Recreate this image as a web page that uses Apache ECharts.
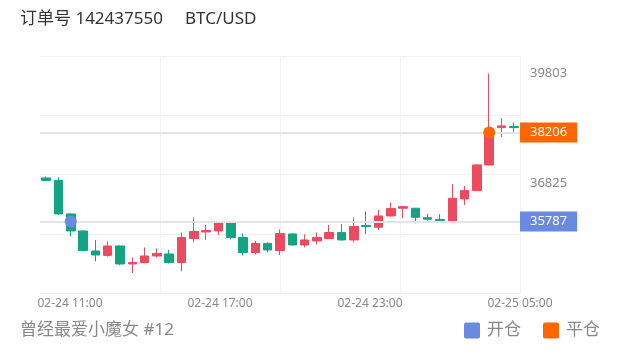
<!DOCTYPE html>
<html>
<head>
<meta charset="utf-8">
<script src="https://cdn.jsdelivr.net/npm/echarts@6/dist/echarts.min.js"></script>
<style>
html,body{margin:0;padding:0;background:#fff;}
#chart{width:620px;height:352px;}
</style>
</head>
<body>
<div id="chart"></div>
<script>
const titleText = '订单号 142437550     BTC/USD';
const footerText = '曾经最爱小魔女 #12';
const categories = [
  '02-24 10:00','02-24 10:30','02-24 11:00','02-24 11:30','02-24 12:00','02-24 12:30',
  '02-24 13:00','02-24 13:30','02-24 14:00','02-24 14:30','02-24 15:00','02-24 15:30',
  '02-24 16:00','02-24 16:30','02-24 17:00','02-24 17:30','02-24 18:00','02-24 18:30',
  '02-24 19:00','02-24 19:30','02-24 20:00','02-24 20:30','02-24 21:00','02-24 21:30',
  '02-24 22:00','02-24 22:30','02-24 23:00','02-24 23:30','02-25 00:00','02-25 00:30',
  '02-25 01:00','02-25 01:30','02-25 02:00','02-25 02:30','02-25 03:00','02-25 03:30',
  '02-25 04:00','02-25 04:30','02-25 05:00'
];
const opens  = [36970,36900,35993,35531,34988,34866,35124,34635,34676,34852,34906,34676,35328,35504,35531,35762,35355,34947,35192,35001,35450,35151,35260,35328,35490,35287,35680,35632,35939,36148,36148,35892,35844,35803,36400,36626,37324,38337,38364];
const closes = [36903,35993,35531,35001,34879,35124,34635,34676,34852,34920,34676,35355,35518,35545,35762,35355,34947,35192,35015,35463,35151,35287,35355,35490,35287,35653,35653,35939,36142,36191,35903,35849,35816,36419,36626,37324,38206,38383,38337];
const lows   = [36889,35966,35382,34988,34703,34838,34608,34390,34648,34811,34648,34431,35219,35287,35422,35300,34866,34893,34947,34879,35137,35083,35164,35314,35273,35219,35450,35558,35920,35876,35740,35811,35803,35795,36237,36618,37310,38076,38228];
const highs  = [37011,36984,36006,35545,35287,35246,35137,34811,35083,35056,35015,35490,35898,35694,35789,35775,35463,35260,35219,35572,35463,35436,35490,35694,35721,35898,36061,36102,36305,36210,36156,35993,35985,36799,36753,37337,39803,38592,38472];
const priceLabels = [39803, 36825];
const openTrade  = { name: '开仓', time: '02-24 11:00', price: 35787 };
const closeTrade = { name: '平仓', time: '02-25 04:00', price: 38206 };
const tickHours  = [11, 17, 23, 29];
const tickLabels = ['02-24 11:00', '02-24 17:00', '02-24 23:00', '02-25 05:00'];

const UP = '#ec4a5e', DOWN = '#14a383', BLUE = '#6a89e0', ORANGE = '#ff6600';
const FONT = '"Noto Sans", "Noto Sans CJK SC", sans-serif';
const SQUARE = 'path://M2,0H14A2,2,0,0,1,16,2V14A2,2,0,0,1,14,16H2A2,2,0,0,1,0,14V2A2,2,0,0,1,2,0Z';

const ohlc = categories.map((c, i) => [opens[i], closes[i], lows[i], highs[i]]);

const chart = echarts.init(document.getElementById('chart'), null, {renderer: 'canvas'});
chart.setOption({
  animation: false,
  backgroundColor: '#fff',
  textStyle: { fontFamily: FONT },
  title: [
    { text: titleText, left: 20, top: 11, padding: 0,
      textStyle: { fontSize: 17, fontWeight: 'normal', color: '#333', fontFamily: FONT } },
    { text: footerText, left: 20, top: 322, padding: 0,
      textStyle: { fontSize: 17, fontWeight: 'normal', color: '#888', fontFamily: FONT, letterSpacing: 0.5 } }
  ],
  legend: {
    data: [{ name: openTrade.name, icon: SQUARE }, { name: closeTrade.name, icon: SQUARE }],
    right: 20, top: 322, padding: 0,
    itemWidth: 16, itemHeight: 16, itemGap: 22,
    textStyle: { fontSize: 17, color: '#888', fontFamily: FONT, padding: [0, 0, 0, 2] }
  },
  grid: { left: 40, right: 100, top: 56, bottom: 59, containLabel: false },
  xAxis: [
    { type: 'category', data: categories, boundaryGap: true, gridIndex: 0,
      axisLine: { show: false }, axisTick: { show: false }, axisLabel: { show: false }, splitLine: { show: false } },
    { type: 'value', min: 9.8, max: 29, gridIndex: 0, position: 'bottom',
      axisLine: { show: true, lineStyle: { color: '#ececec' } }, axisTick: { show: false },
      splitLine: { show: false },
      axisLabel: { customValues: tickHours, margin: 5, color: '#888', fontSize: 12, fontFamily: FONT,
        formatter: v => tickLabels[tickHours.indexOf(v)] } },
    { type: 'value', min: 0, max: 4, interval: 1, gridIndex: 0,
      axisLine: { show: false }, axisTick: { show: false }, axisLabel: { show: false },
      splitLine: { show: true, showMinLine: false, lineStyle: { color: '#f3f3f3', width: 1 } } }
  ],
  yAxis: [
    { type: 'value', position: 'right', min: 33847, max: 40280, scale: true,
      axisLine: { show: false }, axisTick: { show: false }, splitLine: { show: false },
      axisLabel: { customValues: priceLabels, margin: 10, color: '#888', fontSize: 13, fontFamily: FONT,
        formatter: v => String(v) } },
    { type: 'value', min: 0, max: 4, interval: 1, position: 'left',
      axisLine: { show: false }, axisTick: { show: false }, axisLabel: { show: false },
      splitLine: { show: true, showMinLine: false, lineStyle: { color: '#f1f1f1', width: 1 } } }
  ],
  series: [
    { type: 'candlestick', name: 'BTC/USD', xAxisIndex: 0, yAxisIndex: 0, data: ohlc, barWidth: 9,
      itemStyle: { color: UP, color0: DOWN, borderColor: UP, borderColor0: DOWN, borderWidth: 1 },
      markLine: {
        symbol: 'none', silent: true,
        lineStyle: { color: '#e4e4e4', width: 2, type: 'solid' },
        label: { position: 'end', distance: 0, formatter: '{c}', color: '#fff', fontSize: 13,
          fontFamily: FONT, padding: [3, 10, 3, 10], lineHeight: 14 },
        data: [
          { yAxis: closeTrade.price, label: { backgroundColor: ORANGE } },
          { yAxis: openTrade.price, label: { backgroundColor: BLUE } }
        ]
      }
    },
    { type: 'scatter', name: openTrade.name, xAxisIndex: 0, yAxisIndex: 0, symbolSize: 12, z: 5,
      itemStyle: { color: BLUE, opacity: 1 }, data: [[openTrade.time, openTrade.price]] },
    { type: 'scatter', name: closeTrade.name, xAxisIndex: 0, yAxisIndex: 0, symbolSize: 12, z: 5,
      itemStyle: { color: ORANGE, opacity: 1 }, data: [[closeTrade.time, closeTrade.price]] }
  ]
});
</script>
</body>
</html>
